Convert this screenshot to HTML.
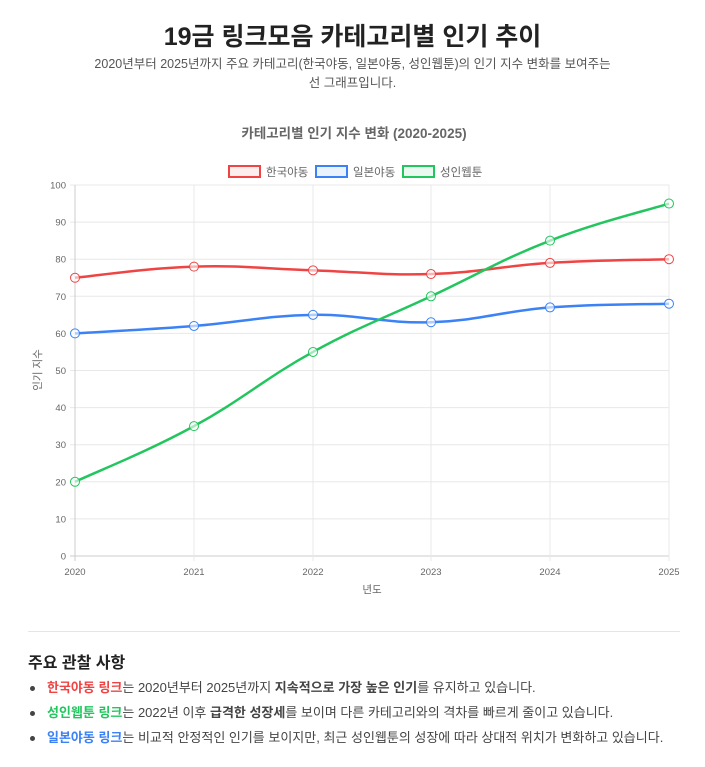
<!DOCTYPE html><html><head><meta charset="utf-8"><style>
body{margin:0;background:#fff;font-family:"Liberation Sans","Noto Sans CJK KR",sans-serif;color:#333;width:705px;height:767px;overflow:hidden;position:relative}
h1{position:absolute;top:17px;left:0;width:705px;text-align:center;margin:0;font-size:25px;font-weight:bold;color:#222}
.sub{position:absolute;top:55px;left:85px;width:535px;text-align:center;font-size:12.5px;color:#555;line-height:19px}
svg{position:absolute;left:0;top:0}
hr{position:absolute;top:631px;left:28px;width:652px;margin:0;border:0;border-top:1px solid #e5e5e5}
h2{position:absolute;top:649px;left:28px;margin:0;font-size:16px;font-weight:bold;color:#222}
ul{position:absolute;top:677px;left:28px;margin:0;padding:0;list-style:none;font-size:13px;color:#444}
li{height:25px;line-height:22px;position:relative;padding-left:19px}
li:before{content:"";position:absolute;left:2px;top:9px;width:5px;height:5px;border-radius:50%;background:#444}
.r{color:#ef4444;font-weight:bold}.g{color:#22c55e;font-weight:bold}.b{color:#3b82f6;font-weight:bold}
</style></head><body>
<h1>19금 링크모음 카테고리별 인기 추이</h1>
<div class="sub">2020년부터 2025년까지 주요 카테고리(한국야동, 일본야동, 성인웹툰)의 인기 지수 변화를 보여주는<br>선 그래프입니다.</div>
<svg id="c" width="705" height="620" font-family="Liberation Sans, Noto Sans CJK KR, sans-serif"></svg>
<hr>
<h2>주요 관찰 사항</h2>
<ul>
<li><span class="r">한국야동 링크</span>는 2020년부터 2025년까지 <b>지속적으로 가장 높은 인기</b>를 유지하고 있습니다.</li>
<li><span class="g">성인웹툰 링크</span>는 2022년 이후 <b>급격한 성장세</b>를 보이며 다른 카테고리와의 격차를 빠르게 줄이고 있습니다.</li>
<li><span class="b">일본야동 링크</span>는 비교적 안정적인 인기를 보이지만, 최근 성인웹툰의 성장에 따라 상대적 위치가 변화하고 있습니다.</li>
</ul>
<script>
var s='',X=[75,194,313,431,550,669],Y=function(v){return 556-3.71*v};
s+='<text x="354" y="138" text-anchor="middle" font-size="13.5" font-weight="bold" fill="#666">카테고리별 인기 지수 변화 (2020-2025)</text>';
var L=[['한국야동','#ef4444','#fdeeee',229],['일본야동','#3b82f6','#ebf2fe',316],['성인웹툰','#22c55e','#e9f9ef',403]];
L.forEach(function(l){s+='<rect x="'+l[3]+'" y="166" width="31" height="11" fill="'+l[2]+'" stroke="'+l[1]+'" stroke-width="2"/><text x="'+(l[3]+37)+'" y="176" font-size="11.5" fill="#666">'+l[0]+'</text>'});
for(var v=0;v<=100;v+=10){var y=Y(v);s+='<line x1="70" x2="669" y1="'+y+'" y2="'+y+'" stroke="'+(v==0?'#ccc':'#e8e8e8')+'"/><text x="66" y="'+(y+3.5)+'" text-anchor="end" font-size="9.5" fill="#666">'+v+'</text>'}
X.forEach(function(x,i){s+='<line x1="'+x+'" x2="'+x+'" y1="185" y2="561" stroke="'+(i==0?'#ccc':'#e8e8e8')+'"/><text x="'+x+'" y="575" text-anchor="middle" font-size="9.5" fill="#666">'+(2020+i)+'</text>'});
s+='<text x="372" y="593" text-anchor="middle" font-size="10.5" fill="#666">년도</text>';
s+='<text transform="translate(41,370) rotate(-90)" text-anchor="middle" font-size="10.5" fill="#666">인기 지수</text>';
var D=[[[75,78,77,76,79,80],'#ef4444'],[[60,62,65,63,67,68],'#3b82f6'],[[20,35,55,70,85,95],'#22c55e']];
D.forEach(function(d){var p=d[0].map(function(v,i){return [X[i],Y(v)]}),t=0.4,n=p.length,path='M'+p[0];
for(var i=0;i<n-1;i++){var a=p[i-1]||p[i],b=p[i],c=p[i+1],e=p[i+2]||c;
var c1=[b[0]+(c[0]-a[0])*t/2,b[1]+(c[1]-a[1])*t/2],c2=[c[0]-(e[0]-b[0])*t/2,c[1]-(e[1]-b[1])*t/2];
path+=' C'+c1+' '+c2+' '+c}
s+='<path d="'+path+'" fill="none" stroke="'+d[1]+'" stroke-width="2.5"/>';
p.forEach(function(q){s+='<circle cx="'+q[0]+'" cy="'+q[1]+'" r="4.5" fill="rgba(255,255,255,0.6)" stroke="'+d[1]+'" stroke-width="1"/>'})});
document.getElementById('c').innerHTML=s;
</script>
</body></html>
